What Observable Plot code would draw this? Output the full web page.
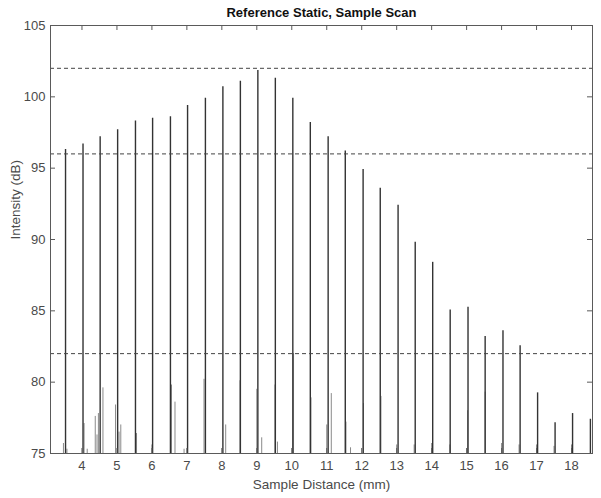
<!DOCTYPE html>
<html>
<head>
<meta charset="utf-8">
<script src="https://cdn.jsdelivr.net/npm/d3@7"></script>
<script src="https://cdn.jsdelivr.net/npm/@observablehq/plot@0.6"></script>
<style>
  html, body { margin: 0; padding: 0; background: #fff; }
  #chart svg { display: block; }
</style>
</head>
<body>
<div id="chart"></div>
<script>
// Tick values
const xTicks = [4, 5, 6, 7, 8, 9, 10, 11, 12, 13, 14, 15, 16, 17, 18];
const yTicks = [75, 80, 85, 90, 95, 100, 105];

// Main echo peaks: sample distance (mm) and intensity (dB)
const peakX = [3.53, 4.03, 4.52, 5.02, 5.53, 6.02, 6.53, 7.02, 7.53, 8.03, 8.53, 9.03, 9.53, 10.03, 10.53, 11.04,
  11.53, 12.04, 12.53, 13.04, 13.53, 14.03, 14.53, 15.04, 15.53, 16.04, 16.53, 17.03, 17.53, 18.03, 18.54];
const peakDb = [96.3, 96.7, 97.2, 97.7, 98.3, 98.5, 98.6, 99.4, 99.9, 100.7, 101.1, 101.85, 101.3, 99.9, 98.2, 97.2,
  96.2, 94.9, 93.6, 92.4, 89.8, 88.4, 85.05, 85.25, 83.2, 83.6, 82.55, 79.25, 77.15, 77.8, 77.4];

// Secondary (side-lobe) peaks
const subX = [3.47, 3.57, 4.06, 4.15, 4.38, 4.43, 4.47, 4.60, 4.96, 5.11, 5.06, 5.56, 6.00, 6.56, 6.66, 6.92, 7.49,
  8.11, 8.52, 9.00, 9.14, 9.52, 9.59, 10.05, 10.55, 11.00, 11.13, 11.55, 11.68, 12.05, 12.55, 13.00, 13.50, 14.00,
  14.52, 15.03, 15.53, 16.00, 16.50, 17.00, 17.50, 18.00];
const subDb = [75.7, 75.3, 77.1, 75.3, 77.6, 76.3, 77.8, 79.6, 78.4, 77.0, 76.5, 76.4, 75.6, 79.8, 78.6, 75.3, 80.2,
  77.0, 80.1, 79.5, 76.1, 79.8, 75.8, 82.0, 78.9, 77.0, 79.2, 77.2, 75.4, 78.5, 79.0, 75.6, 75.6, 75.7,
  75.6, 78.0, 79.3, 75.7, 75.6, 75.6, 75.5, 75.6];

// Reference levels (dashed)
const refLevels = [102, 96, 82];

const peaks = peakX.map((x, i) => ({x, db: peakDb[i]}));
const subs = subX.map((x, i) => ({x, db: subDb[i]}));

const W = 601, H = 498, mL = 50, mR = 9, mT = 25, mB = 45;
const innerW = W - mL - mR, innerH = H - mT - mB;
const tick = 5;
const axisColor = "#5a5a5a";
const labelColor = "#4a4a4a";
const font = "'Liberation Sans', Arial, Helvetica, sans-serif";

const chart = Plot.plot({
  width: W, height: H,
  marginLeft: mL, marginRight: mR, marginTop: mT, marginBottom: mB,
  x: {domain: [3.1, 18.6]},
  y: {domain: [75, 105]},
  style: {fontFamily: font, background: "#fff", color: labelColor},
  marks: [
    Plot.ruleX(subs, {x: "x", y1: () => 75, y2: "db", stroke: "#8a8a8a", strokeWidth: 1}),
    Plot.ruleX(peaks, {x: "x", y1: () => 75, y2: "db", stroke: "#333", strokeWidth: 1.4}),
    Plot.ruleY(refLevels, {y: d => d, stroke: "#444", strokeWidth: 1, strokeDasharray: "4,3"}),
    // inward ticks on all four sides
    Plot.tickX(xTicks, {x: d => d, insetTop: innerH - tick, stroke: axisColor}),
    Plot.tickX(xTicks, {x: d => d, insetBottom: innerH - tick, stroke: axisColor}),
    Plot.tickY(yTicks, {y: d => d, insetRight: innerW - tick, stroke: axisColor}),
    Plot.tickY(yTicks, {y: d => d, insetLeft: innerW - tick, stroke: axisColor}),
    Plot.frame({stroke: axisColor, strokeWidth: 1}),
    Plot.axisX({ticks: xTicks, tickSize: 0, tickPadding: 7, fontSize: 13, label: null, fill: labelColor}),
    Plot.axisY({ticks: yTicks, tickSize: 0, tickPadding: 5, fontSize: 13, label: null, fill: labelColor}),
    Plot.text(["Reference Static, Sample Scan"], {frameAnchor: "top", lineAnchor: "middle", dy: -13,
      fontWeight: "bold", fontSize: 13, fill: "#111"}),
    Plot.text(["Sample Distance (mm)"], {frameAnchor: "bottom", lineAnchor: "middle", dy: 31,
      fontSize: 13.5, fill: labelColor}),
    Plot.text(["Intensity (dB)"], {frameAnchor: "left", lineAnchor: "middle", dx: -35, rotate: -90,
      fontSize: 13.5, fill: labelColor})
  ]
});
document.getElementById("chart").appendChild(chart);
</script>
</body>
</html>
